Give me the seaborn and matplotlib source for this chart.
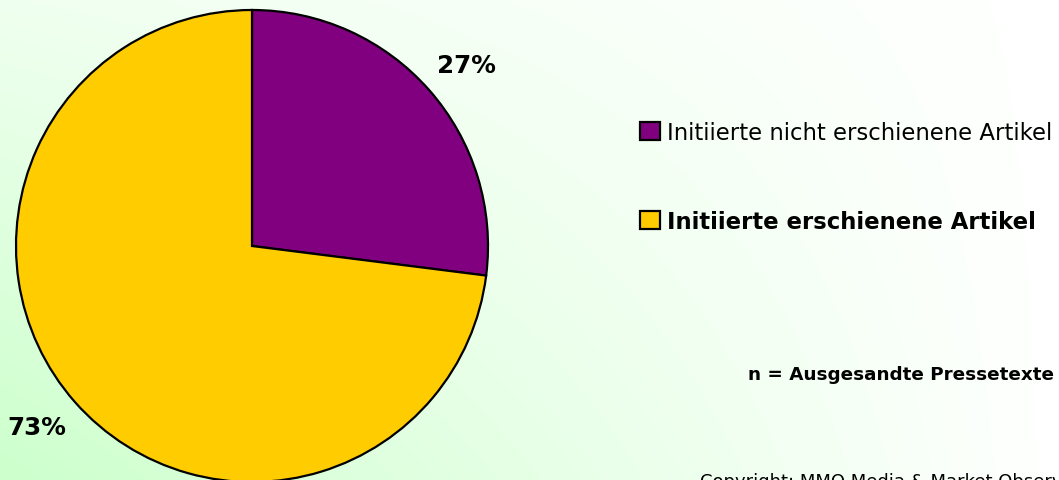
import numpy as np
import matplotlib
matplotlib.use("Agg")
import matplotlib.pyplot as plt
import seaborn as sns

# ---- data ----
categories = ["Initiierte nicht erschienene Artikel", "Initiierte erschienene Artikel"]
shares = [27, 73]
colors = ["#800080", "#FFCC00"]
note_text = "n = Ausgesandte Pressetexte"
copyright_text = "Copyright: MMO Media & Market Observer"

sns.set_style("white")
plt.rcParams["font.family"] = ["DejaVu Sans"]
plt.rcParams["text.color"] = "black"

W, H = 1059, 481
fig = plt.figure(figsize=(W / 100, H / 100), dpi=100)

# background gradient (light green bottom-left -> white right)
bg = fig.add_axes([0, 0, 1, 1])
xx, yy = np.meshgrid(np.linspace(0, 1, 400), np.linspace(0, 1, 200))  # yy: 0 top, 1 bottom
g = np.clip((1 - xx) * (0.3 + 0.7 * yy), 0, 1)
light = np.array([1.0, 1.0, 1.0])
green = np.array([0xCC, 0xFF, 0xCC]) / 255
img = light[None, None, :] * (1 - g[..., None]) + green[None, None, :] * g[..., None]
bg.imshow(img, aspect="auto", extent=[0, 1, 0, 1], origin="upper")
bg.set_axis_off()

# pie axes: center (252, 247) px from top, radius 236 px
cx, cy, r = 252, 247, 236
ax = fig.add_axes([(cx - r) / W, (H - cy - r) / H, 2 * r / W, 2 * r / H])
ax.set_axis_off()
wedges, texts, autotexts = ax.pie(
    shares,
    colors=colors,
    startangle=90,
    counterclock=False,
    radius=1,
    autopct="%d%%",
    pctdistance=1.19,
    wedgeprops=dict(edgecolor="black", linewidth=1.6),
    textprops=dict(fontsize=17.7, fontweight="bold", color="black"),
)
ax.set_xlim(-1, 1)
ax.set_ylim(-1, 1)
for w, t in zip(wedges, autotexts):
    w.set_clip_on(False)
    mid = np.deg2rad((w.theta1 + w.theta2) / 2 - 1.3)
    t.set_position((1.19 * np.cos(mid), 1.19 * np.sin(mid)))

# legend
fs = 16.4
leg = fig.legend(
    wedges,
    categories,
    loc="upper left",
    bbox_to_anchor=(640 / W, 1 - 122 / H),
    frameon=False,
    fontsize=fs,
    handlelength=20 / (fs * 100 / 72),
    handleheight=19 / (fs * 100 / 72),
    handletextpad=7 / (fs * 100 / 72),
    labelspacing=2.89,
    borderpad=0,
    borderaxespad=0,
    labelcolor="black",
)
leg.get_texts()[1].set_fontweight("bold")

fig.text(1054 / W, 1 - 375 / H, note_text, ha="right", va="center",
         fontsize=13.2, fontweight="bold", color="black")
fig.text(700 / W, 1 - 487 / H, copyright_text, ha="left", va="baseline",
         fontsize=13.0, color="black")

fig.savefig("out.png", dpi=100)
